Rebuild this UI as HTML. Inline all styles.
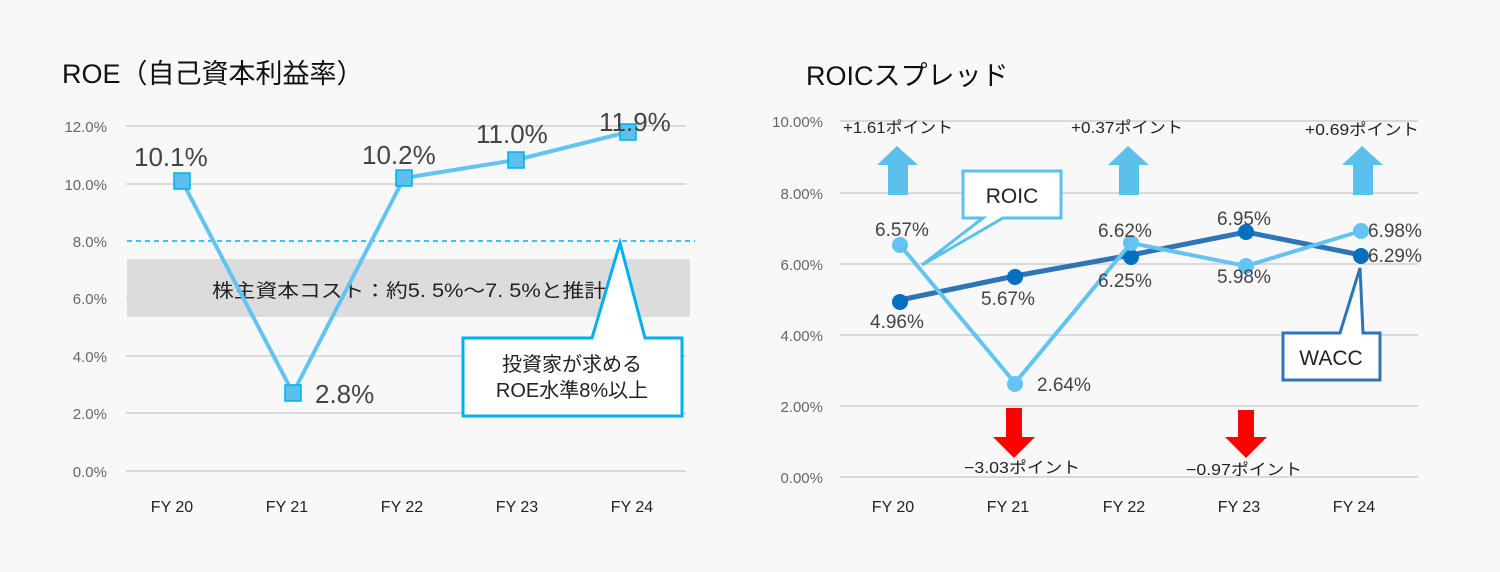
<!DOCTYPE html>
<html><head><meta charset="utf-8"><style>
html,body{margin:0;padding:0;background:#f8f8f8;}
svg{display:block;font-family:"Liberation Sans","Noto Sans CJK JP",sans-serif;}
</style></head><body>
<svg width="1500" height="572" viewBox="0 0 1500 572" xmlns="http://www.w3.org/2000/svg">
<rect width="1500" height="572" fill="#f8f8f8"/>
<!-- LEFT CHART -->
<text x="62" y="83" font-size="27" fill="#111">ROE（自己資本利益率）</text>
<rect x="127" y="259" width="563" height="58" fill="#dcdcdc"/>
<g stroke="#d9d9d9" stroke-width="2">
<line x1="126" y1="126" x2="686" y2="126"/><line x1="126" y1="184" x2="686" y2="184"/>
<line x1="126" y1="298" x2="686" y2="298"/><line x1="126" y1="356" x2="686" y2="356"/>
<line x1="126" y1="413" x2="686" y2="413"/><line x1="126" y1="471" x2="686" y2="471"/>
</g>
<line x1="127" y1="241" x2="695" y2="241" stroke="#00b0f0" stroke-width="1.5" stroke-dasharray="5,4"/>
<g font-size="15" fill="#666" text-anchor="end">
<text x="107" y="132">12.0%</text><text x="107" y="190">10.0%</text><text x="107" y="247">8.0%</text>
<text x="107" y="304">6.0%</text><text x="107" y="362">4.0%</text><text x="107" y="419">2.0%</text><text x="107" y="477">0.0%</text>
</g>
<g font-size="16" fill="#222" text-anchor="middle">
<text x="172" y="512">FY 20</text><text x="287" y="512">FY 21</text><text x="402" y="512">FY 22</text><text x="517" y="512">FY 23</text><text x="632" y="512">FY 24</text>
</g>
<text x="212" y="297" font-size="19" fill="#222" textLength="394" lengthAdjust="spacingAndGlyphs">株主資本コスト：約5. 5%～7. 5%と推計</text>
<polyline points="182,181 293,393 404,178 516,160 628,132" fill="none" stroke="#63c3f2" stroke-width="4"/>
<g fill="#5bc0eb" stroke="#00b0f0" stroke-width="1.5">
<rect x="174" y="173" width="16" height="16"/><rect x="285" y="385" width="16" height="16"/>
<rect x="396" y="170" width="16" height="16"/><rect x="508" y="152" width="16" height="16"/><rect x="620" y="124" width="16" height="16"/>
</g>
<g font-size="26" fill="#444">
<text x="134" y="166">10.1%</text><text x="315" y="403">2.8%</text><text x="362" y="164">10.2%</text>
<text x="476" y="143">11.0%</text><text x="599" y="131">11.9%</text>
</g>
<path d="M463,338 L592,338 L620,243 L645,338 L682,338 L682,416 L463,416 Z" fill="#fff" stroke="#00b0f0" stroke-width="3"/>
<text x="572" y="371" font-size="20" fill="#222" text-anchor="middle">投資家が求める</text>
<text x="572" y="397" font-size="20" fill="#222" text-anchor="middle">ROE水準8%以上</text>

<!-- RIGHT CHART -->
<text x="806" y="85" font-size="27" fill="#111">ROICスプレッド</text>
<g stroke="#d9d9d9" stroke-width="2">
<line x1="840" y1="121" x2="1418" y2="121"/><line x1="840" y1="193" x2="1418" y2="193"/>
<line x1="840" y1="264" x2="1418" y2="264"/><line x1="840" y1="335" x2="1418" y2="335"/>
<line x1="840" y1="406" x2="1418" y2="406"/><line x1="840" y1="477" x2="1418" y2="477"/>
</g>
<g font-size="15" fill="#666" text-anchor="end">
<text x="823" y="127">10.00%</text><text x="823" y="199">8.00%</text><text x="823" y="270">6.00%</text>
<text x="823" y="341">4.00%</text><text x="823" y="412">2.00%</text><text x="823" y="483">0.00%</text>
</g>
<g font-size="16" fill="#222" text-anchor="middle">
<text x="893" y="512">FY 20</text><text x="1008" y="512">FY 21</text><text x="1124" y="512">FY 22</text><text x="1239" y="512">FY 23</text><text x="1354" y="512">FY 24</text>
</g>
<g font-size="16" fill="#222">
<text x="843" y="133" textLength="110" lengthAdjust="spacingAndGlyphs">+1.61ポイント</text>
<text x="1071" y="133" textLength="112" lengthAdjust="spacingAndGlyphs">+0.37ポイント</text>
<text x="1305" y="135" textLength="114" lengthAdjust="spacingAndGlyphs">+0.69ポイント</text>
<text x="964" y="473" textLength="116" lengthAdjust="spacingAndGlyphs">−3.03ポイント</text>
<text x="1186" y="475" textLength="116" lengthAdjust="spacingAndGlyphs">−0.97ポイント</text>
</g>
<g fill="#5bc0eb">
<path d="M897,146 L918,165 L908,165 L908,195 L888,195 L888,165 L877,165 Z"/>
<path d="M1128,146 L1149,165 L1139,165 L1139,195 L1119,195 L1119,165 L1108,165 Z"/>
<path d="M1362,146 L1383,165 L1373,165 L1373,195 L1353,195 L1353,165 L1342,165 Z"/>
</g>
<g fill="#ff0000">
<path d="M1006,408 L1022,408 L1022,437 L1035,437 L1014,458 L993,437 L1006,437 Z"/>
<path d="M1238,410 L1254,410 L1254,437 L1267,437 L1246,458 L1225,437 L1238,437 Z"/>
</g>
<polyline points="900,300 1015,276 1131,255 1246,232 1361,255" fill="none" stroke="#2e75b6" stroke-width="5"/>
<g fill="#0070c0"><circle cx="900" cy="302" r="8"/><circle cx="1015" cy="277" r="8"/><circle cx="1131" cy="257" r="8"/><circle cx="1246" cy="232" r="8"/><circle cx="1361" cy="256" r="8"/></g>
<polyline points="900,245 1015,383 1131,243 1246,266 1361,231" fill="none" stroke="#63c3f2" stroke-width="4"/>
<g fill="#63c3f2"><circle cx="900" cy="245" r="8"/><circle cx="1015" cy="384" r="8"/><circle cx="1131" cy="243" r="8"/><circle cx="1246" cy="266" r="8"/><circle cx="1361" cy="231" r="8"/></g>
<g font-size="19" fill="#444">
<text x="875" y="236">6.57%</text><text x="870" y="328">4.96%</text><text x="981" y="305">5.67%</text>
<text x="1037" y="391">2.64%</text><text x="1098" y="237">6.62%</text><text x="1098" y="287">6.25%</text>
<text x="1217" y="225">6.95%</text><text x="1217" y="283">5.98%</text><text x="1368" y="237">6.98%</text><text x="1368" y="262">6.29%</text>
</g>
<path d="M963,171 L1061,171 L1061,218 L1003,218 L922,265 L983,218 L963,218 Z" fill="#fff" stroke="#5bc0eb" stroke-width="3"/>
<text x="1012" y="203" font-size="21" fill="#222" text-anchor="middle">ROIC</text>
<path d="M1283,333 L1340,333 L1360,268 L1363,333 L1380,333 L1380,380 L1283,380 Z" fill="#fff" stroke="#2e75b6" stroke-width="3"/>
<text x="1331" y="365" font-size="21" fill="#222" text-anchor="middle">WACC</text>
</svg>
</body></html>
